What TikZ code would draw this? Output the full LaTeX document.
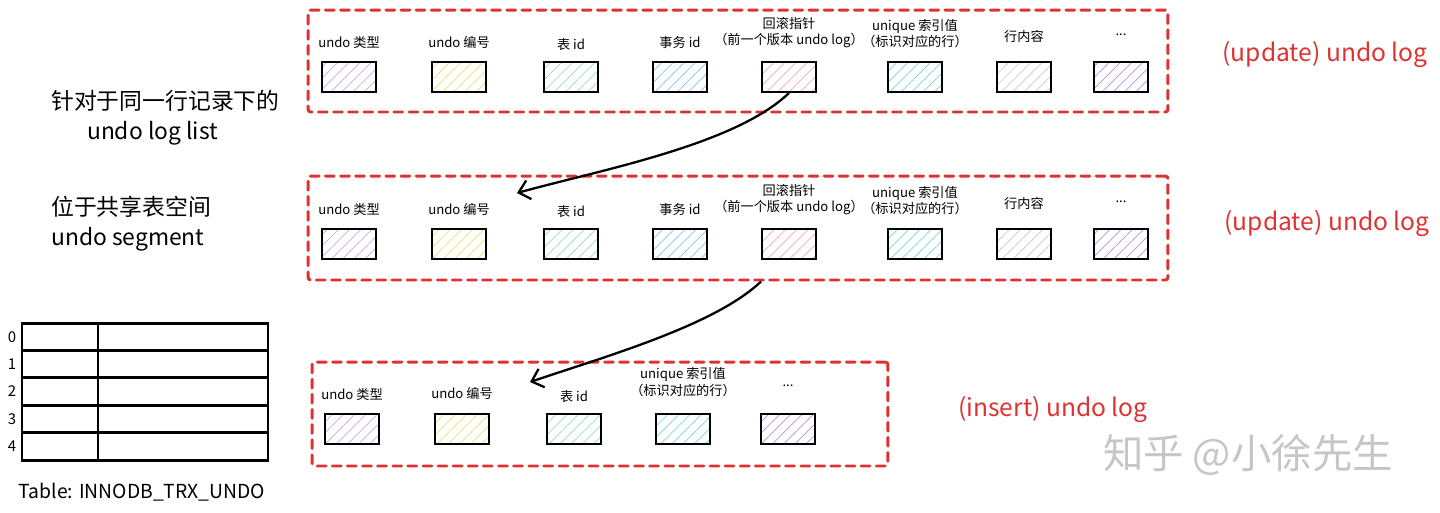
\documentclass[tikz,border=0pt]{standalone}
\usepackage{fontspec}
\setmainfont{Noto Sans CJK SC}
\usetikzlibrary{positioning, arrows.meta, patterns.meta}
\definecolor{logred}{HTML}{E03131}
\definecolor{hpurple}{HTML}{CFA6EA}
\definecolor{hyellow}{HTML}{EADF72}
\definecolor{hgreen}{HTML}{96DEB4}
\definecolor{hblue}{HTML}{88C2F0}
\definecolor{hpink}{HTML}{F2A8B2}
\definecolor{hcyan}{HTML}{74D8D2}
\definecolor{hgray}{HTML}{C8C8C8}
\definecolor{hviolet}{HTML}{B88EE0}
\tikzstyle{frame} = [rectangle,
draw=logred,
line width=1.7pt,
dash pattern=on 5pt off 3.6pt,
line cap=round,
rounded corners=1.5pt]
\tikzstyle{field} = [rectangle,
minimum width=1.08cm,
minimum height=0.6cm,
line width=1.1pt,
pattern={Lines[angle=45,distance=4.5pt,line width=0.4pt]},
draw=black]
\tikzstyle{fname} = [inner sep=0pt,
align=center,
font=\fontsize{7.5}{9.6}\selectfont]
\tikzstyle{kind} = [text=logred,
font=\fontsize{14}{16}\selectfont]
\tikzstyle{note} = [anchor=west,
align=left,
font=\fontsize{13}{17}\selectfont]
\tikzstyle{arrow} = [line width=1.3pt,-{Straight Barb[length=6pt,width=11pt]}]

\begin{document}
\begin{tikzpicture}[x=0.02cm, y=-0.02cm]
\useasboundingbox (0,0) rectangle (1440,512);

% first update undo log
\node (frame1) [frame, minimum width=17.2cm, minimum height=2.04cm] at (738,61) {};
\node (u1_type) [field, pattern color=hpurple] at (349,77) {};
\node (u1_num) [field, pattern color=hyellow] at (459,77) {};
\node (u1_tab) [field, pattern color=hgreen] at (571,77) {};
\node (u1_trx) [field, pattern color=hblue] at (680,77) {};
\node (u1_ptr) [field, pattern color=hpink] at (789,77) {};
\node (u1_uniq) [field, pattern color=hcyan] at (915,77) {};
\node (u1_row) [field, pattern color=hgray] at (1024,77) {};
\node (u1_more) [field, pattern color=hviolet] at (1121,77) {};

\node (u1_type_l) [fname, above=0.25cm of u1_type] {undo 类型};
\node (u1_num_l) [fname, above=0.25cm of u1_num] {undo 编号};
\node (u1_tab_l) [fname, above=0.21cm of u1_tab] {表 id};
\node (u1_trx_l) [fname, above=0.25cm of u1_trx] {事务 id};
\node (u1_ptr_l) [fname, above=0.25cm of u1_ptr] {回滚指针\\（前一个版本 undo log）};
\node (u1_uniq_l) [fname, above=0.25cm of u1_uniq] {unique 索引值\\（标识对应的行）};
\node (u1_row_l) [fname, above=0.36cm of u1_row] {行内容};
\node (u1_more_l) [fname, above=0.5cm of u1_more] {...};

\node (u1_kind) [kind] at (1325,55) {(update) undo log};

% second update undo log
\node (frame2) [frame, minimum width=17.2cm, minimum height=2.08cm] at (738,228) {};
\node (u2_type) [field, pattern color=hpurple] at (349,244) {};
\node (u2_num) [field, pattern color=hyellow] at (459,244) {};
\node (u2_tab) [field, pattern color=hgreen] at (571,244) {};
\node (u2_trx) [field, pattern color=hblue] at (680,244) {};
\node (u2_ptr) [field, pattern color=hpink] at (789,244) {};
\node (u2_uniq) [field, pattern color=hcyan] at (915,244) {};
\node (u2_row) [field, pattern color=hgray] at (1024,244) {};
\node (u2_more) [field, pattern color=hviolet] at (1121,244) {};

\node (u2_type_l) [fname, above=0.25cm of u2_type] {undo 类型};
\node (u2_num_l) [fname, above=0.25cm of u2_num] {undo 编号};
\node (u2_tab_l) [fname, above=0.21cm of u2_tab] {表 id};
\node (u2_trx_l) [fname, above=0.25cm of u2_trx] {事务 id};
\node (u2_ptr_l) [fname, above=0.25cm of u2_ptr] {回滚指针\\（前一个版本 undo log）};
\node (u2_uniq_l) [fname, above=0.25cm of u2_uniq] {unique 索引值\\（标识对应的行）};
\node (u2_row_l) [fname, above=0.36cm of u2_row] {行内容};
\node (u2_more_l) [fname, above=0.5cm of u2_more] {...};

\node (u2_kind) [kind] at (1327,224) {(update) undo log};

% insert undo log
\node (frame3) [frame, minimum width=11.52cm, minimum height=2.08cm] at (600,414) {};
\node (ins_type) [field, pattern color=hpurple] at (352,429) {};
\node (ins_num) [field, pattern color=hyellow] at (462,429) {};
\node (ins_tab) [field, pattern color=hgreen] at (574,429) {};
\node (ins_uniq) [field, pattern color=hcyan] at (683,429) {};
\node (ins_more) [field, pattern color=hviolet] at (788,429) {};

\node (ins_type_l) [fname, above=0.25cm of ins_type] {undo 类型};
\node (ins_num_l) [fname, above=0.27cm of ins_num] {undo 编号};
\node (ins_tab_l) [fname, above=0.21cm of ins_tab] {表 id};
\node (ins_uniq_l) [fname, above=0.32cm of ins_uniq] {unique 索引值\\（标识对应的行）};
\node (ins_more_l) [fname, above=0.52cm of ins_more] {...};

\node (ins_kind) [kind] at (1053,410) {(insert) undo log};

% notes on the left
\node (list_note) [note] at (45,118) {针对于同一行记录下的\\\hspace{0.72cm}undo log list};
\node (seg_note) [note] at (45,224) {位于共享表空间\\undo segment};

% table INNODB_TRX_UNDO
\draw [line width=1.7pt] (22,323) rectangle (268,460);
\foreach \i in {1,...,4}
  \draw [line width=1.7pt] (22,323+27.4*\i) -- (268,323+27.4*\i);
\draw [line width=1.7pt] (98,323) -- (98,460);
\foreach \i in {0,...,4}
  \node (slot_\i) [font=\fontsize{8.5}{9}\selectfont] at (12,336.7+27.4*\i) {\i};
\node (trx_undo) [font=\fontsize{11}{13}\selectfont] at (142,492) {Table: INNODB\_TRX\_UNDO};

% watermark
\node (mark) [text=gray!45, font=\fontsize{23}{26}\selectfont] at (1248,455) {知乎 @小徐先生};

% roll pointers
\coordinate (u2_in) at (517,193);
\coordinate (ins_in) at (530,382);
\draw [arrow] (u1_ptr.south) .. controls (735,145) and (600,170) .. (u2_in);
\draw [arrow] (frame2.south -| u2_ptr.west) .. controls (715,325) and (610,355) .. (ins_in);

\end{tikzpicture}
\end{document}
